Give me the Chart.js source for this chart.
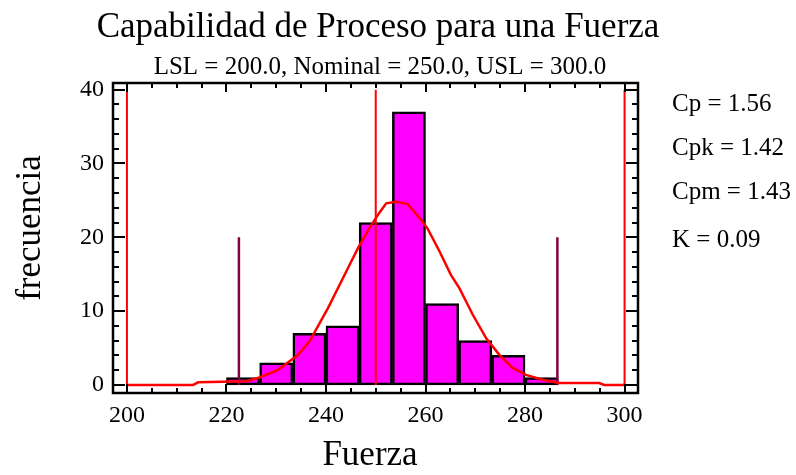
<!DOCTYPE html>
<html>
<head>
<meta charset="utf-8">
<script src="https://cdn.jsdelivr.net/npm/chart.js@4/dist/chart.umd.min.js"></script>
<style>
  html, body { margin: 0; padding: 0; background: #fff; }
  #wrap { width: 796px; height: 475px; }
</style>
</head>
<body>
<div id="wrap"><canvas id="capChart" width="796" height="475"></canvas></div>
<script>
// histogram (Fuerza)
const binCenters = [223.33, 230, 236.67, 243.33, 250, 256.67, 263.33, 270, 276.67, 283.33];
const binCounts = [1, 3, 7, 8, 22, 37, 11, 6, 4, 1];

// fitted curve
const curveX = [200, 213.3, 214.3, 224, 226.6, 230.3, 234.3, 236.7, 240.4, 244.4, 246.4, 248.7,
  250.7, 252.1, 254.1, 256.4, 258.8, 260.4, 262.8, 265.1, 266.8, 269.5, 272.2, 274.8,
  277.5, 280.2, 283.5, 286.9, 294.9, 295.9, 300];
const curveY = [0, 0, 0.35, 0.5, 1.0, 2.0, 4.0, 5.9, 10.4, 15.8, 18.5, 21.2,
  23.3, 24.6, 24.8, 24.5, 22.6, 21.2, 18.1, 14.9, 13.1, 9.5, 6.3, 4.1,
  2.3, 1.35, 0.7, 0.25, 0.25, 0, 0];

// LSL, Nominal, USL and the +/- 3 sigma marks
const specLimits = [200, 250, 300];
const specTop = 40;
const sigmaMarks = [222.5, 286.5];
const sigmaTop = 20;

const xTicks = [200, 220, 240, 260, 280, 300];
const yTicks = [0, 10, 20, 30, 40];
const xMinorStep = 5;
const yMinorStep = 2;

const mainTitle = "Capabilidad de Proceso para una Fuerza";
const subTitle = "LSL = 200.0, Nominal = 250.0, USL = 300.0";
const xTitle = "Fuerza";
const yTitle = "frecuencia";
const statLabels = ["Cp = 1.56", "Cpk = 1.42", "Cpm = 1.43", "K = 0.09"];

const FONT = "'Liberation Serif', 'Times New Roman', serif";

function vLine(x, top, color, width, order) {
  return {
    type: "line",
    data: [{ x: x, y: 0 }, { x: x, y: top }],
    borderColor: color,
    borderWidth: width,
    pointRadius: 0,
    order: order
  };
}

const frame = {
  id: "frame",
  afterDatasetsDraw(chart) {
    const ctx = chart.ctx;
    const a = chart.chartArea;
    const xs = chart.scales.x;
    const ys = chart.scales.y;
    ctx.save();
    ctx.strokeStyle = "#000";
    ctx.lineWidth = 2.5;
    ctx.strokeRect(a.left, a.top, a.right - a.left, a.bottom - a.top);

    ctx.lineWidth = 2;
    ctx.beginPath();
    for (let v = xTicks[0]; v <= xTicks[xTicks.length - 1]; v += xMinorStep) {
      const px = Math.round(xs.getPixelForValue(v));
      const len = xTicks.includes(v) ? 9 : 5;
      ctx.moveTo(px, a.bottom); ctx.lineTo(px, a.bottom - len);
      ctx.moveTo(px, a.top); ctx.lineTo(px, a.top + len);
    }
    for (let v = yTicks[0]; v <= yTicks[yTicks.length - 1]; v += yMinorStep) {
      const py = Math.round(ys.getPixelForValue(v));
      const len = yTicks.includes(v) ? 12 : 6;
      ctx.moveTo(a.left, py); ctx.lineTo(a.left + len, py);
      ctx.moveTo(a.right, py); ctx.lineTo(a.right - len, py);
    }
    ctx.stroke();

    ctx.fillStyle = "#000";
    ctx.font = "24px " + FONT;
    ctx.textAlign = "center";
    ctx.textBaseline = "alphabetic";
    xTicks.forEach(v => ctx.fillText(String(v), xs.getPixelForValue(v), 422));
    ctx.textAlign = "right";
    ctx.textBaseline = "middle";
    yTicks.forEach(v => ctx.fillText(String(v), a.left - 9, ys.getPixelForValue(v)));

    ctx.textAlign = "center";
    ctx.textBaseline = "alphabetic";
    ctx.font = "35px " + FONT;
    ctx.fillText(mainTitle, 378, 37);
    ctx.font = "25px " + FONT;
    ctx.fillText(subTitle, 380, 74);
    ctx.font = "35px " + FONT;
    ctx.fillText(xTitle, 370, 465);

    ctx.save();
    ctx.translate(40, 228);
    ctx.rotate(-Math.PI / 2);
    ctx.fillText(yTitle, 0, 0);
    ctx.restore();

    ctx.textAlign = "left";
    ctx.textBaseline = "middle";
    ctx.font = "25px " + FONT;
    const statY = [104, 148, 192, 240];
    statLabels.forEach((s, i) => ctx.fillText(s, 672, statY[i]));
    ctx.restore();
  }
};

new Chart(document.getElementById("capChart"), {
  type: "bar",
  data: {
    datasets: [
      {
        type: "line",
        data: curveX.map((x, i) => ({ x: x, y: curveY[i] })),
        borderColor: "#ff0000",
        borderWidth: 2.5,
        pointRadius: 0,
        tension: 0,
        order: 1
      },
      ...specLimits.map(x => vLine(x, specTop, "#ff0000", 2, 2)),
      ...sigmaMarks.map(x => vLine(x, sigmaTop, "#800040", 2.5, 3)),
      {
        type: "bar",
        data: binCenters.map((x, i) => ({ x: x, y: binCounts[i] })),
        backgroundColor: "#ff00ff",
        borderColor: "#000",
        borderWidth: 2.5,
        borderSkipped: false,
        barPercentage: 1,
        categoryPercentage: 1,
        order: 4
      }
    ]
  },
  options: {
    responsive: false,
    animation: false,
    devicePixelRatio: 1,
    layout: { padding: { left: 113, right: 158, top: 83, bottom: 82 } },
    plugins: { legend: { display: false }, tooltip: { enabled: false } },
    scales: {
      x: { type: "linear", min: 197.2, max: 302.7, offset: false, display: false },
      y: { type: "linear", min: -1.1, max: 40.9, display: false }
    }
  },
  plugins: [frame]
});
</script>
</body>
</html>
